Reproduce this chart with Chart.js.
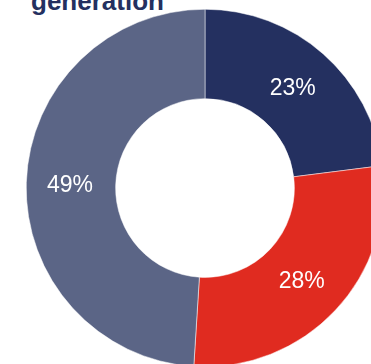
<!DOCTYPE html>
<html>
<head>
<meta charset="utf-8">
<script src="https://cdn.jsdelivr.net/npm/chart.js@4/dist/chart.umd.min.js"></script>
<style>
  html, body { margin: 0; padding: 0; width: 371px; height: 364px; overflow: hidden; background: #ffffff; position: relative; }
  #title { position: absolute; left: 31px; top: -12px; font-family: "Liberation Sans", Arial, sans-serif; font-weight: bold; font-size: 26px; line-height: 26px; color: #243060; white-space: nowrap; }
  #wrap { position: absolute; left: 26px; top: 9px; width: 358px; height: 358px; }
</style>
</head>
<body>
<div id="title">generation</div>
<div id="wrap"><canvas id="c" width="358" height="358"></canvas></div>
<script>
const categories = ["Segment 1", "Segment 2", "Segment 3"];
const values = [23, 28, 49];
const valueLabels = ["23%", "28%", "49%"];
const colors = ["#243060", "#e02b20", "#5b6586"];

const labelPlugin = {
  id: 'sliceLabels',
  afterDatasetsDraw(chart) {
    const ctx = chart.ctx;
    const meta = chart.getDatasetMeta(0);
    ctx.save();
    ctx.fillStyle = '#ffffff';
    ctx.font = '23px "Liberation Sans", Arial, sans-serif';
    ctx.textAlign = 'center';
    ctx.textBaseline = 'middle';
    meta.data.forEach((arc, i) => {
      const p = arc.tooltipPosition();
      ctx.fillText(valueLabels[i], p.x - 1, p.y + 1.5);
    });
    ctx.restore();
  }
};

new Chart(document.getElementById('c'), {
  type: 'doughnut',
  data: {
    labels: categories,
    datasets: [{
      data: values,
      backgroundColor: colors,
      borderColor: '#ffffff',
      borderWidth: 0.5
    }]
  },
  options: {
    responsive: false,
    animation: false,
    cutout: '50%',
    layout: { padding: 0 },
    plugins: { legend: { display: false }, tooltip: { enabled: false }, title: { display: false } }
  },
  plugins: [labelPlugin]
});
</script>
</body>
</html>
